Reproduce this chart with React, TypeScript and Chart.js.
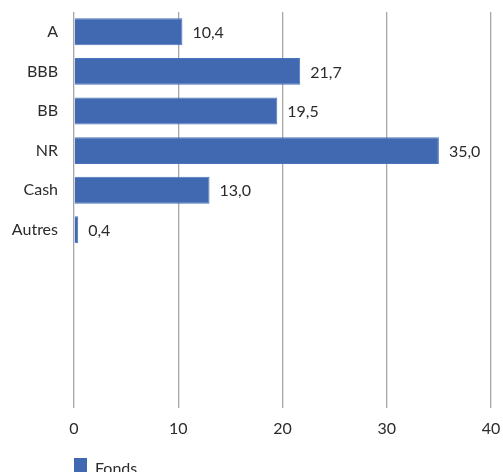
import React, { useEffect, useRef } from "react";
import { Chart, registerables } from "chart.js";

Chart.register(...registerables);

const categories = ["A", "BBB", "BB", "NR", "Cash", "Autres", "", "", "", ""];
const values = [10.4, 21.7, 19.5, 35.0, 13.0, 0.4, null, null, null, null];
const seriesName = "Fonds";
const xTicks = [0, 10, 20, 30, 40];

const BAR_COLOR = "#4169B1";
const TEXT_COLOR = "#2b2b2b";
const FONT = "Lato, sans-serif";
const FSIZE = 16;

const fmt = (v: number) => v.toFixed(1).replace(".", ",");

const labelsPlugin = {
  id: "valueLabels",
  afterDatasetsDraw(chart: any) {
    const ctx = chart.ctx;
    const meta = chart.getDatasetMeta(0);
    ctx.save();
    ctx.font = `${FSIZE}px ${FONT}`;
    ctx.fillStyle = TEXT_COLOR;
    ctx.textAlign = "left";
    ctx.textBaseline = "middle";
    meta.data.forEach((el: any, i: number) => {
      const v = values[i];
      if (v === null || v === undefined) return;
      ctx.fillText(fmt(v), el.x + 10, el.y + 1);
    });
    ctx.restore();
  },
};

const legendPlugin = {
  id: "customLegend",
  afterDraw(chart: any) {
    const ctx = chart.ctx;
    const left = chart.chartArea.left;
    ctx.save();
    ctx.fillStyle = BAR_COLOR;
    ctx.fillRect(left, 458, 13, 14);
    ctx.font = `${FSIZE}px ${FONT}`;
    ctx.fillStyle = TEXT_COLOR;
    ctx.textAlign = "left";
    ctx.textBaseline = "middle";
    ctx.fillText(seriesName, left + 21, 469);
    ctx.restore();
  },
};

export default function App() {
  const ref = useRef<HTMLCanvasElement | null>(null);
  useEffect(() => {
    if (!ref.current) return;
    const chart = new Chart(ref.current, {
      type: "bar",
      data: {
        labels: categories,
        datasets: [
          {
            label: seriesName,
            data: values as any,
            backgroundColor: BAR_COLOR,
            borderColor: "#4a74be",
            borderWidth: 1,
            categoryPercentage: 0.68,
            barPercentage: 1,
          },
        ],
      },
      options: {
        indexAxis: "y",
        animation: false,
        responsive: true,
        maintainAspectRatio: false,
        layout: { padding: { top: 12, right: 12, left: 0, bottom: 0 } },
        plugins: { legend: { display: false }, tooltip: { enabled: false } },
        scales: {
          x: {
            min: 0,
            max: 40,
            afterBuildTicks: (axis: any) => {
              axis.ticks = xTicks.map((v) => ({ value: v }));
            },
            grid: { color: "#a6a6a6", lineWidth: 1.3, drawTicks: false },
            border: { display: false },
            ticks: {
              padding: 11,
              color: TEXT_COLOR,
              font: { family: FONT, size: FSIZE },
            },
            afterFit: (axis: any) => {
              axis.height = 64;
              axis.paddingLeft = 0;
              axis.paddingRight = 0;
            },
          },
          y: {
            grid: { display: false, drawTicks: false },
            border: { display: false },
            ticks: {
              padding: 16,
              color: TEXT_COLOR,
              font: { family: FONT, size: FSIZE },
              autoSkip: false,
            },
            afterFit: (axis: any) => {
              axis.width = 74;
              axis.paddingTop = 0;
              axis.paddingBottom = 0;
            },
          },
        },
      },
      plugins: [labelsPlugin, legendPlugin],
    });
    return () => chart.destroy();
  }, []);
  return (
    <div style={{ position: "fixed", left: 0, top: 0, width: 503, height: 472 }}>
      <canvas ref={ref} />
    </div>
  );
}
